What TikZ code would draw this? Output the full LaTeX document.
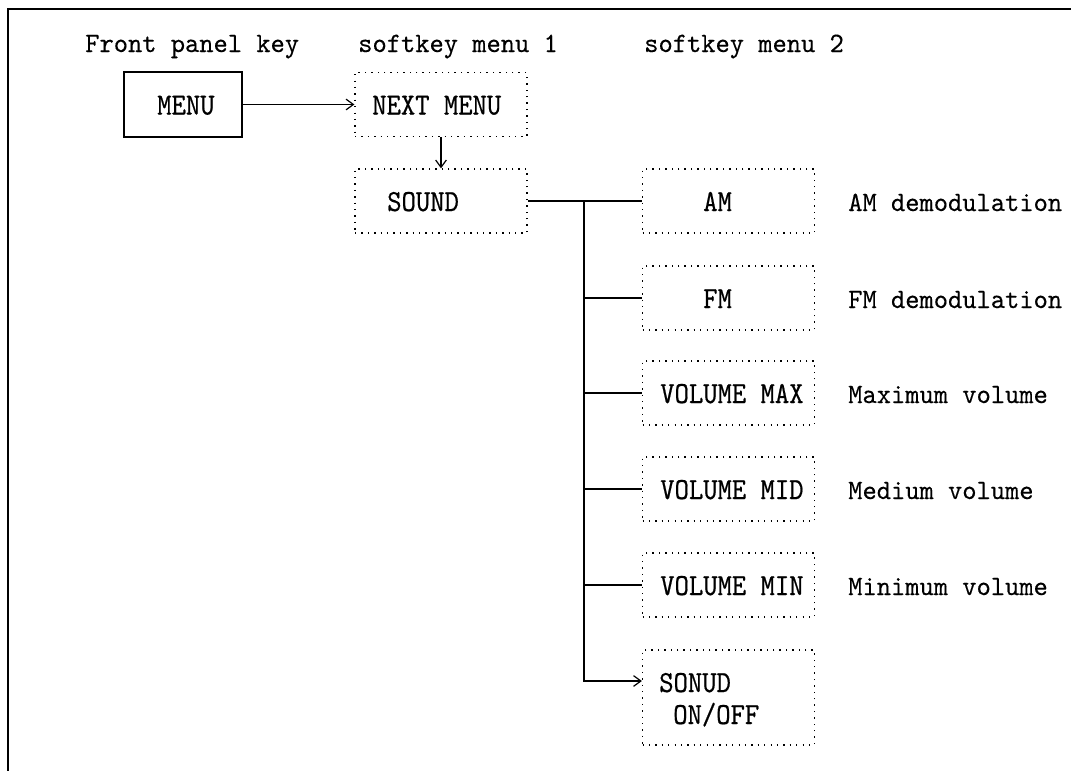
\documentclass[tikz,border=0pt]{standalone}
\usepackage{fontspec}
\usetikzlibrary{arrows.meta,calc}
\newfontfamily\boxfont{lmmono10-regular.otf}[FakeStretch=0.89,FakeBold=0.5]
\newfontfamily\plainfont{lmmono10-regular.otf}[FakeStretch=0.97,FakeBold=0.3]
\begin{document}
\begin{tikzpicture}[x=0.75pt,y=-0.75pt,
  softbox/.style={draw, line width=0.9pt, dash pattern=on 1pt off 3.8pt, minimum width=129pt, minimum height=48pt, inner sep=0pt},
  keybox/.style={draw, line width=1.7pt, minimum width=88.5pt, minimum height=48.75pt, inner sep=0pt},
  boxtext/.style={anchor=base west, inner sep=0pt, font=\boxfont\fontsize{23}{28}\selectfont},
  plaintext/.style={anchor=base west, inner sep=0pt, font=\plainfont\fontsize{21}{26}\selectfont},
  conn/.style={line width=0.9pt},
  arr/.style={conn, -{Straight Barb[length=5.5pt,width=8pt]}}]
\useasboundingbox (0,0) rectangle (1071,771);
% frame
\draw[line width=1.5pt] (1071,9) -- (8,9) -- (8,771);
% headers
\node[plaintext] (h0) at (85,52) {Front panel key};
\node[plaintext] (h1) at (358,52) {softkey menu 1};
\node[plaintext] (h2) at (644,52) {softkey menu 2};
% boxes
\node[keybox] (menu) at (183,104.5) {};
\node[softbox] (next) at (441,104.5) {};
\node[softbox] (sound) at (441,201) {};
\node[softbox] (am) at (728.5,201) {};
\node[softbox] (fm) at (728.5,298) {};
\node[softbox] (vmax) at (728.5,393) {};
\node[softbox] (vmid) at (728.5,489) {};
\node[softbox] (vmin) at (728.5,585) {};
\node[softbox, minimum height=71.25pt] (sonud) at (728.5,697.5) {};
% box texts
\node[boxtext] (tmenu) at (157,114.5) {MENU};
\node[boxtext] (tnext) at (372,114.5) {NEXT MENU};
\node[boxtext] (tsound) at (387,211) {SOUND};
\node[boxtext] (tam) at (703,211) {AM};
\node[boxtext] (tfm) at (703,308) {FM};
\node[boxtext] (tvmax) at (660,403) {VOLUME MAX};
\node[boxtext] (tvmid) at (660,499) {VOLUME MID};
\node[boxtext] (tvmin) at (660,595) {VOLUME MIN};
\node[boxtext] (tson1) at (659,692) {SONUD};
\node[boxtext] (tson2) at (673,724) {ON/OFF};
% descriptions
\node[plaintext] (dam) at (848,211) {AM demodulation};
\node[plaintext] (dfm) at (848,308) {FM demodulation};
\node[plaintext] (dvmax) at (848,403) {Maximum volume};
\node[plaintext] (dvmid) at (848,499) {Medium volume};
\node[plaintext] (dvmin) at (848,595) {Minimum volume};
% connectors
\draw[arr] (menu.east) -- (next.west);
\draw[arr] (next.south) -- (sound.north);
\draw[conn] (sound.east) -- (am.west);
\coordinate (trunk) at (584,201);
\coordinate (sonin) at ($(sonud.west)+(0,-16.5)$);
\draw[arr] (trunk) |- (sonin);
\draw[conn] (trunk |- fm.west) -- (fm.west);
\draw[conn] (trunk |- vmax.west) -- (vmax.west);
\draw[conn] (trunk |- vmid.west) -- (vmid.west);
\draw[conn] (trunk |- vmin.west) -- (vmin.west);
\end{tikzpicture}
\end{document}
